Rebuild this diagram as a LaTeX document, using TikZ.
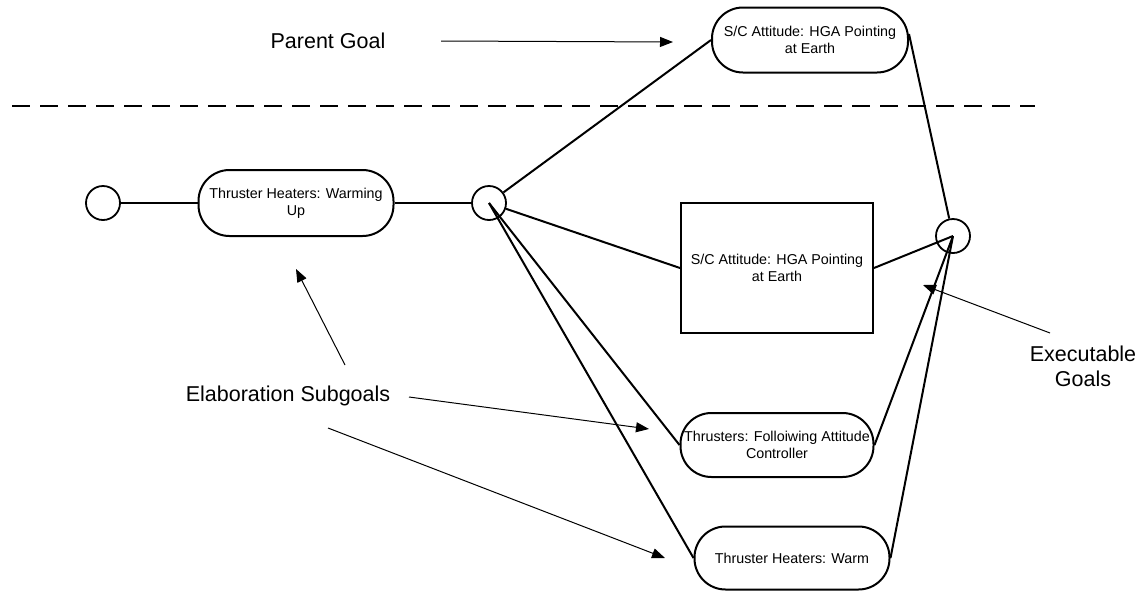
\documentclass[tikz,border=0pt]{standalone}
\usepackage{fontspec}
\setmainfont{Liberation Sans}
\usetikzlibrary{arrows.meta}
\begin{document}
\begin{tikzpicture}[x=1pt,y=-1pt,
  goal/.style={draw,line width=2pt,rounded corners=31pt,inner sep=0pt,align=center,
    font=\fontsize{14.3}{17}\selectfont},
  boxgoal/.style={draw,line width=2pt,inner sep=0pt,align=center,
    font=\fontsize{14.3}{17}\selectfont},
  junction/.style={draw,circle,line width=1.8pt,minimum size=34pt,inner sep=0pt},
  link/.style={line width=2pt},
  lbl/.style={font=\fontsize{21.5}{25}\selectfont,align=center,inner sep=0pt},
  pointer/.style={line width=1pt,-{Triangle[length=13pt,width=10pt]}}
]
\useasboundingbox (0,0) rectangle (1138,592);

% nodes
\node[junction] (c1) at (103,203) {};
\node[goal,minimum width=195pt,minimum height=66pt] (warm) at (296,203) {Thruster Heaters: Warming\\Up};
\node[junction] (c2) at (489,203) {};
\node[goal,minimum width=196pt,minimum height=65pt] (parent) at (810,40) {S/C Attitude: HGA Pointing\\at Earth};
\node[boxgoal,minimum width=192pt,minimum height=130pt] (rect) at (777,268) {S/C Attitude: HGA Pointing\\at Earth};
\node[goal,minimum width=193pt,minimum height=64pt] (thr) at (777,445) {Thrusters: Folloiwing Attitude\\Controller};
\node[goal,minimum width=195pt,minimum height=63pt] (heat) at (792,558) {Thruster Heaters: Warm};
\node[junction] (c3) at (953,236) {};

% labels
\node[lbl] (pg) at (328,41) {Parent Goal};
\node[lbl] (es) at (288,396) {Elaboration Subgoals};
\node[lbl] (eg) at (1083,366) {Executable\\Goals};

% dashed separator
\coordinate (dl) at (12,106);
\coordinate (dr) at (1035,106);
\draw[line width=2pt,dash pattern=on 18pt off 10pt] (dl) -- (dr);

% connectors
\draw[link] (c1) -- (warm);
\draw[link] (warm) -- (c2);
\draw[link] (c2) -- (parent.west);
\draw[link] (c2) -- (rect.west);
\draw[link] (c2.center) -- (thr.west);
\draw[link] (c2.center) -- (heat.west);
\draw[link] ([yshift=6pt]parent.east) -- (c3);
\draw[link] (rect.east) -- (c3.center);
\draw[link] (thr.east) -- (c3.center);
\draw[link] (heat.east) -- (c3.center);

% pointer arrows
\coordinate (pgs) at (441,41);
\coordinate (pge) at (673,42);
\draw[pointer] (pgs) -- (pge);
\coordinate (e1s) at (345,365);
\coordinate (e1e) at (296,269);
\draw[pointer] (e1s) -- (e1e);
\coordinate (e2s) at (409,397);
\coordinate (e2e) at (649,429);
\draw[pointer] (e2s) -- (e2e);
\coordinate (e3s) at (328,428);
\coordinate (e3e) at (665,558);
\draw[pointer] (e3s) -- (e3e);
\coordinate (x1s) at (1050,333);
\coordinate (x1e) at (923,285);
\draw[pointer] (x1s) -- (x1e);
\end{tikzpicture}
\end{document}
